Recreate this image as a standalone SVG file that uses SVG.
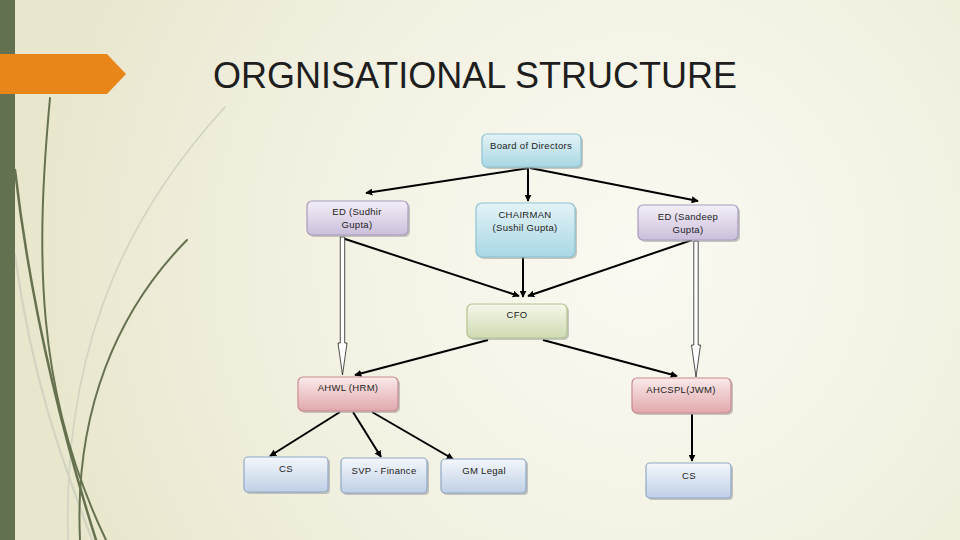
<svg xmlns="http://www.w3.org/2000/svg" width="960" height="540" viewBox="0 0 960 540">
<defs>
<radialGradient id="bg" cx="640" cy="260" r="620" gradientUnits="userSpaceOnUse">
<stop offset="0" stop-color="#fafaf2"/>
<stop offset="0.6" stop-color="#f1f0e0"/>
<stop offset="1" stop-color="#e8e6cc"/>
</radialGradient>
<linearGradient id="gBlue" x1="0" y1="0" x2="0" y2="1"><stop offset="0" stop-color="#e4f3f7"/><stop offset="1" stop-color="#a8d7e4"/></linearGradient>
<linearGradient id="gLav" x1="0" y1="0" x2="0" y2="1"><stop offset="0" stop-color="#f3eff7"/><stop offset="1" stop-color="#cbbfdb"/></linearGradient>
<linearGradient id="gGreen" x1="0" y1="0" x2="0" y2="1"><stop offset="0" stop-color="#f5f7ea"/><stop offset="1" stop-color="#cfdbb2"/></linearGradient>
<linearGradient id="gPink" x1="0" y1="0" x2="0" y2="1"><stop offset="0" stop-color="#fbeaea"/><stop offset="1" stop-color="#e0a8ac"/></linearGradient>
<linearGradient id="gPale" x1="0" y1="0" x2="0" y2="1"><stop offset="0" stop-color="#f4f7fb"/><stop offset="1" stop-color="#bfd0e6"/></linearGradient>
<marker id="ah" viewBox="0 0 10 10" refX="9" refY="5" markerWidth="7" markerHeight="7" orient="auto" markerUnits="userSpaceOnUse">
<path d="M0,0 L10,5 L0,10 z" fill="#000"/>
</marker>
</defs>
<style>
.shadow{fill:#9a9a9a;opacity:0.55}
.blue{fill:url(#gBlue);stroke:#8cc3d3;stroke-width:1.2}
.lav{fill:url(#gLav);stroke:#a89bbd;stroke-width:1.2}
.green{fill:url(#gGreen);stroke:#b4c48e;stroke-width:1.2}
.pink{fill:url(#gPink);stroke:#c98a90;stroke-width:1.2}
.pale{fill:url(#gPale);stroke:#8fa8c6;stroke-width:1.2}
.lbl{font-family:"Liberation Sans",Arial,sans-serif;font-size:9.5px;fill:#222;text-anchor:middle;letter-spacing:0.3px}
.con{stroke:#000;stroke-width:2;fill:none;marker-end:url(#ah)}
.hollow{fill:#fff;stroke:#222;stroke-width:0.8}
.deco{fill:none;stroke:#66724f;stroke-linecap:round}
.decoL{fill:none;stroke:#d3d3c2;stroke-linecap:round}
</style>
<rect x="0" y="0" width="960" height="540" fill="url(#bg)"/>
<g id="decoration">
<path class="decoL" stroke-width="1.6" d="M225,107 C140,200 62,330 68,540"/>
<path class="decoL" stroke-width="2.2" d="M15,255 C32,380 62,460 92,540"/>
<path class="deco" stroke-width="2" d="M50,98 C36,250 34,390 106,540"/>
<path class="deco" stroke-width="2.5" d="M15,170 C30,300 58,420 96,540"/>
<path class="deco" stroke-width="2" d="M187,240 C118,310 74,410 80,540"/>
<rect x="0" y="0" width="15" height="540" fill="#627251"/>
<polygon points="0,54 107,54 126,74 107,94 0,94" fill="#e8861a"/>
</g>
<text x="475" y="88" font-family="Liberation Sans, Arial, sans-serif" font-size="36" fill="#1e1e1e" text-anchor="middle">ORGNISATIONAL STRUCTURE</text>
<g id="connectors">
<line class="con" x1="529" y1="168" x2="366" y2="193"/>
<line class="con" x1="528" y1="168" x2="528" y2="201"/>
<line class="con" x1="530" y1="168" x2="698" y2="201"/>
<line class="con" x1="342" y1="238" x2="519" y2="296"/>
<line class="con" x1="523" y1="257" x2="523" y2="297"/>
<line class="con" x1="692" y1="240" x2="528" y2="296"/>
<line class="con" x1="488" y1="340" x2="355" y2="375"/>
<line class="con" x1="543" y1="340" x2="677" y2="376"/>
<line class="con" x1="340" y1="412" x2="270" y2="456"/>
<line class="con" x1="353" y1="412" x2="381" y2="457"/>
<line class="con" x1="372" y1="412" x2="453" y2="459"/>
<line class="con" x1="692" y1="414" x2="692" y2="461"/>
<polygon class="hollow" points="340.3,237 344.7,237 344.7,343 347,343 342.5,375 338,343 340.3,343"/>
<polygon class="hollow" points="693.8,241 698.2,241 698.2,345 700.5,345 696,377 691.5,345 693.8,345"/>
</g>
<g id="board">
<rect class="shadow" x="484" y="136" width="99" height="33" rx="5"/>
<rect class="blue" x="482" y="134" width="99" height="33" rx="5"/>
<text class="lbl" x="531" y="149">Board of Directors</text>
</g>
<g id="ed-sudhir">
<rect class="shadow" x="309" y="203" width="101" height="34" rx="5"/>
<rect class="lav" x="307" y="201" width="101" height="34" rx="5"/>
<text class="lbl" x="357" y="215">ED (Sudhir</text>
<text class="lbl" x="357" y="228">Gupta)</text>
</g>
<g id="chairman">
<rect class="shadow" x="478" y="205" width="99" height="54" rx="6"/>
<rect class="blue" x="476" y="203" width="99" height="54" rx="6"/>
<text class="lbl" x="525" y="218">CHAIRMAN</text>
<text class="lbl" x="525" y="231">(Sushil Gupta)</text>
</g>
<g id="ed-sandeep">
<rect class="shadow" x="640" y="207" width="100" height="35" rx="5"/>
<rect class="lav" x="638" y="205" width="100" height="35" rx="5"/>
<text class="lbl" x="688" y="220">ED (Sandeep</text>
<text class="lbl" x="688" y="233">Gupta)</text>
</g>
<g id="cfo">
<rect class="shadow" x="469" y="306" width="100" height="34" rx="5"/>
<rect class="green" x="467" y="304" width="100" height="34" rx="5"/>
<text class="lbl" x="517" y="318">CFO</text>
</g>
<g id="ahwl">
<rect class="shadow" x="300" y="379" width="100" height="34" rx="5"/>
<rect class="pink" x="298" y="377" width="100" height="34" rx="5"/>
<text class="lbl" x="348" y="391">AHWL (HRM)</text>
</g>
<g id="ahcspl">
<rect class="shadow" x="634" y="380" width="99" height="35" rx="5"/>
<rect class="pink" x="632" y="378" width="99" height="35" rx="5"/>
<text class="lbl" x="681" y="393">AHCSPL(JWM)</text>
</g>
<g id="cs-left">
<rect class="shadow" x="246" y="459" width="84" height="35" rx="4"/>
<rect class="pale" x="244" y="457" width="84" height="35" rx="4"/>
<text class="lbl" x="286" y="472">CS</text>
</g>
<g id="svp-finance">
<rect class="shadow" x="343" y="460" width="86" height="35" rx="4"/>
<rect class="pale" x="341" y="458" width="86" height="35" rx="4"/>
<text class="lbl" x="384" y="474">SVP - Finance</text>
</g>
<g id="gm-legal">
<rect class="shadow" x="443" y="461" width="85" height="34" rx="4"/>
<rect class="pale" x="441" y="459" width="85" height="34" rx="4"/>
<text class="lbl" x="484" y="474">GM Legal</text>
</g>
<g id="cs-right">
<rect class="shadow" x="648" y="465" width="85" height="35" rx="4"/>
<rect class="pale" x="646" y="463" width="85" height="35" rx="4"/>
<text class="lbl" x="689" y="479">CS</text>
</g>
</svg>
